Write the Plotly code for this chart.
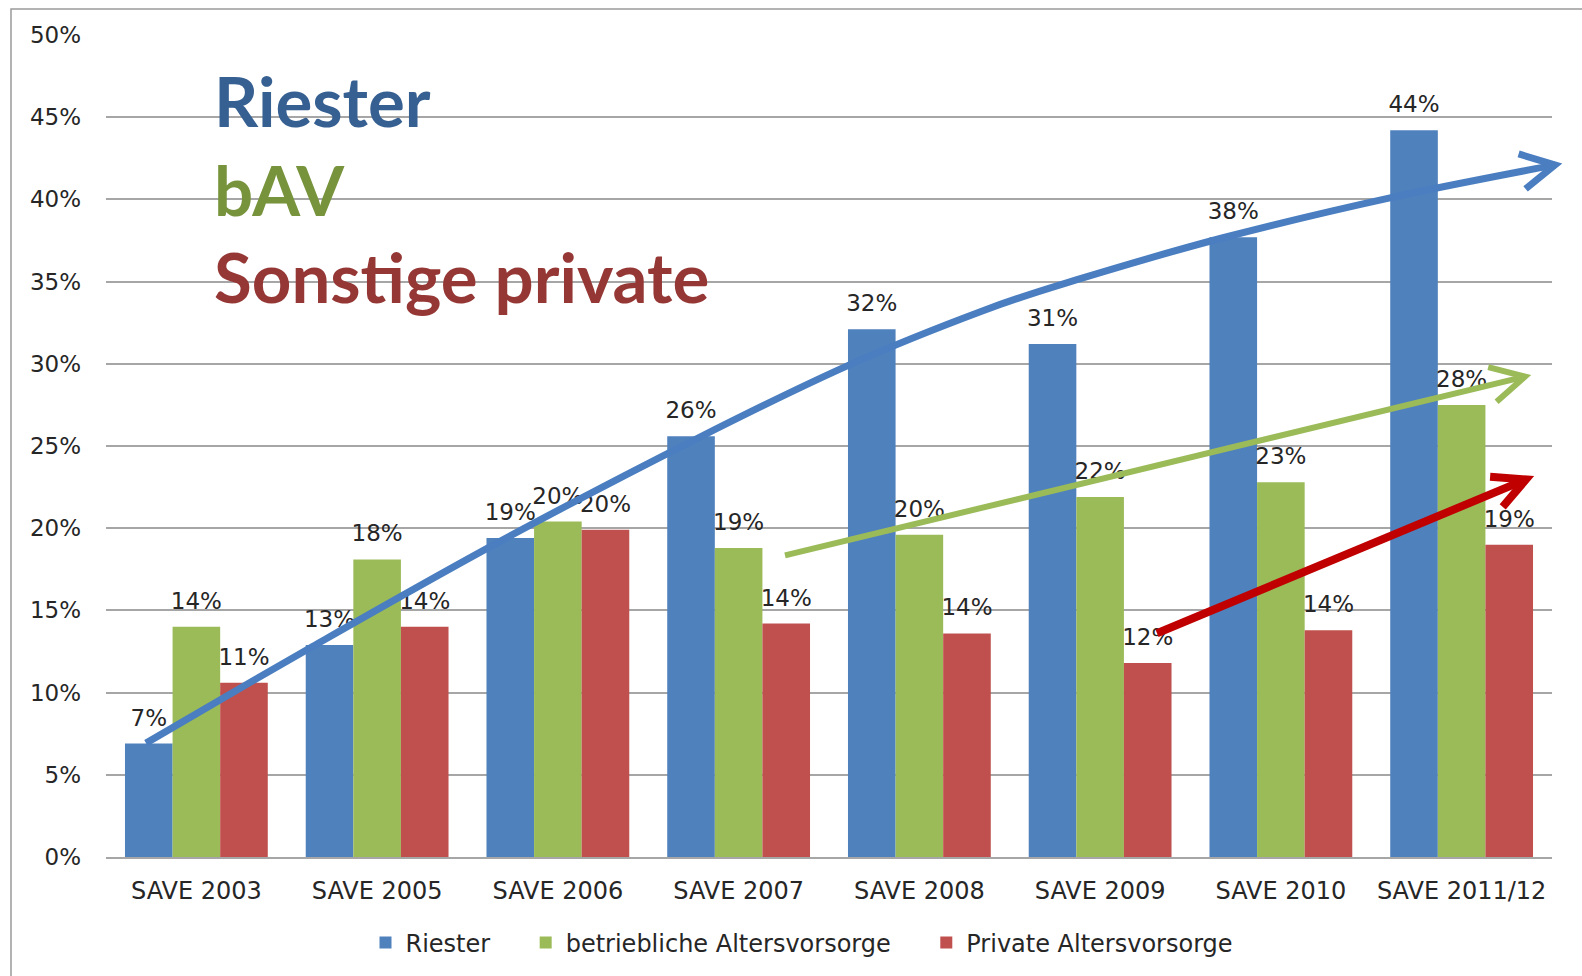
import math
import plotly.graph_objects as go

years = ["SAVE 2003", "SAVE 2005", "SAVE 2006", "SAVE 2007",
         "SAVE 2008", "SAVE 2009", "SAVE 2010", "SAVE 2011/12"]
riester = [6.9, 12.9, 19.4, 25.6, 32.1, 31.2, 37.7, 44.2]
bav = [14.0, 18.1, 20.4, 18.8, 19.6, 21.9, 22.8, 27.5]
privat = [10.6, 14.0, 19.9, 14.2, 13.6, 11.8, 13.8, 19.0]
y_ticks = [0, 5, 10, 15, 20, 25, 30, 35, 40, 45, 50]
y_labels = [f"{v}%" for v in y_ticks]

W, H = 1582, 976
L, R, T, B = 106, 1552, 35, 858
FONT = "DejaVu Sans"
NB = "\u00a0"


def paper(x, y):
    return (x - L) / (R - L), (B - y) / (B - T)


def fmt(x, y):
    a, b = paper(x, y)
    return f"{a:.5f},{b:.5f}"


def smooth_path(pts):
    d = "M " + fmt(*pts[0])
    n = len(pts)
    for i in range(n - 1):
        p0 = pts[max(i - 1, 0)]
        p1 = pts[i]
        p2 = pts[i + 1]
        p3 = pts[min(i + 2, n - 1)]
        c1 = (p1[0] + (p2[0] - p0[0]) / 6, p1[1] + (p2[1] - p0[1]) / 6)
        c2 = (p2[0] - (p3[0] - p1[0]) / 6, p2[1] - (p3[1] - p1[1]) / 6)
        d += " C " + fmt(*c1) + " " + fmt(*c2) + " " + fmt(*p2)
    return d


def chevron(tip, prev, ang=28, length=38):
    dx, dy = prev[0] - tip[0], prev[1] - tip[1]
    base = math.atan2(dy, dx)
    arms = []
    for s in (1, -1):
        a = base + s * math.radians(ang)
        arms.append((tip[0] + length * math.cos(a), tip[1] + length * math.sin(a)))
    return "M " + fmt(*arms[0]) + " L " + fmt(*tip) + " L " + fmt(*arms[1])


fig = go.Figure()
series = [("Riester" + NB * 4, riester, "#4F81BD"),
          ("betriebliche Altersvorsorge" + NB * 4, bav, "#9BBB59"),
          ("Private Altersvorsorge", privat, "#C0504D")]
for i, (name, vals, col) in enumerate(series):
    fig.add_trace(go.Bar(
        x=years, y=vals, name=name, marker_color=col, marker_line_width=0,
        offsetgroup=str(i),
    ))
for i, (name, vals, col) in enumerate(series):
    fig.add_trace(go.Scatter(
        x=years, y=vals, mode="markers+text", showlegend=False,
        offsetgroup=str(i), cliponaxis=False,
        marker=dict(size=18, opacity=0),
        text=[f"{v:.0f}%" for v in vals], textposition="top center",
        textfont=dict(family=FONT, size=23, color="#262626"),
        hoverinfo="skip",
    ))

shapes = [dict(type="path", xref="paper", yref="paper",
               path="M " + fmt(11, 1000) + " L " + fmt(11, 9) + " L " + fmt(1600, 9),
               line=dict(color="#9a9a9a", width=1.5))]

blue_pts = [(146, 744), (313, 647), (500, 542), (697, 439), (850, 365),
            (983, 311), (1077, 280), (1223, 238), (1390, 198), (1555, 165)]
shapes.append(dict(type="path", xref="paper", yref="paper", path=smooth_path(blue_pts),
                   line=dict(color="#4A7EC0", width=7)))
shapes.append(dict(type="path", xref="paper", yref="paper",
                   path=chevron(blue_pts[-1], blue_pts[-2], 28, 38),
                   line=dict(color="#4A7EC0", width=7)))

g0, g1 = (785, 556), (1525, 377)
shapes.append(dict(type="path", xref="paper", yref="paper",
                   path="M " + fmt(*g0) + " L " + fmt(*g1),
                   line=dict(color="#9BBB59", width=6)))
shapes.append(dict(type="path", xref="paper", yref="paper",
                   path=chevron(g1, g0, 28, 38), line=dict(color="#9BBB59", width=6)))

r0, r1 = (1157, 634), (1526, 480)
shapes.append(dict(type="path", xref="paper", yref="paper",
                   path="M " + fmt(*r0) + " L " + fmt(*r1),
                   line=dict(color="#C00000", width=8)))
shapes.append(dict(type="path", xref="paper", yref="paper",
                   path=chevron(r1, r0, 27, 36), line=dict(color="#C00000", width=8)))

annotations = []
for txt, yc, col in [("Riester", 101, "#376092"), ("bAV", 190, "#77933C"),
                     ("Sonstige private", 277, "#953735")]:
    ax, ay = paper(212, yc)
    annotations.append(dict(text=txt, x=ax, y=ay, xref="paper", yref="paper",
                            xanchor="left", yanchor="middle", showarrow=False,
                            font=dict(family="Lato", size=69, color=col, weight="bold")))

lx, ly = paper(802, 943)
fig.update_layout(
    width=W, height=H,
    margin=dict(l=L, r=W - R, t=T, b=H - B),
    paper_bgcolor="white", plot_bgcolor="white",
    barmode="group", bargap=0.21, bargroupgap=0,
    scattermode="group", scattergap=0.21,
    font=dict(family=FONT, size=22, color="#262626"),
    shapes=shapes, annotations=annotations,
    legend=dict(orientation="h", x=lx, y=ly, xanchor="center", yanchor="middle",
                font=dict(family=FONT, size=24, color="#262626"), itemwidth=30),
    xaxis=dict(showgrid=False, showline=True, linecolor="#a6a6a6", linewidth=1.5,
               ticks="", ticklabelstandoff=11,
               tickfont=dict(family=FONT, size=24, color="#262626")),
    yaxis=dict(range=[0, 50], tickvals=y_ticks, ticktext=y_labels,
               showgrid=True, gridcolor="#a6a6a6", gridwidth=1.5,
               zeroline=False, showline=False, ticks="", ticklabelstandoff=24,
               tickfont=dict(family=FONT, size=23, color="#262626")),
)

fig.write_html("out.html", config={"displayModeBar": False},
               post_script="document.body.style.margin='0';document.body.style.overflow='hidden';")
